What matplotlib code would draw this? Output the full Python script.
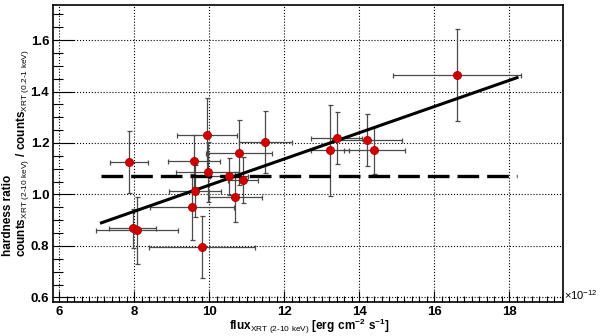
import numpy as np
import matplotlib
matplotlib.use('Agg')
import matplotlib.pyplot as plt
from matplotlib.ticker import MultipleLocator

plt.rcParams['font.family'] = 'Liberation Sans'
plt.rcParams['mathtext.fontset'] = 'custom'
plt.rcParams['mathtext.rm'] = 'Liberation Sans'
plt.rcParams['mathtext.bf'] = 'Liberation Sans:bold'

# flux in units of 1e-12 erg cm^-2 s^-1
flux = [7.87, 7.96, 8.08, 9.54, 9.59, 9.63, 9.81, 9.94, 9.96, 10.53,
        10.70, 10.80, 10.91, 11.50, 13.22, 13.41, 14.21, 14.41, 16.61]
flux_err = [0.50, 0.62, 1.09, 1.12, 0.69, 0.70, 1.41, 0.80, 0.83, 0.50,
            0.71, 0.88, 0.40, 0.71, 0.50, 0.68, 0.92, 0.80, 1.70]
ratio = [1.127, 0.868, 0.861, 0.950, 1.130, 1.014, 0.797, 1.230, 1.088, 1.071,
         0.991, 1.163, 1.055, 1.204, 1.171, 1.220, 1.212, 1.171, 1.464]
ratio_err = [0.12, 0.075, 0.13, 0.128, 0.10, 0.10, 0.12, 0.145, 0.117, 0.072,
             0.097, 0.125, 0.09, 0.122, 0.178, 0.10, 0.10, 0.09, 0.178]

# linear fit and constant fit
fit_range = [7.13, 18.21]
fit_slope = 0.0509
fit_intercept = 0.527
const_value = 1.072

fig = plt.figure(figsize=(6, 3.36), dpi=100)
ax = fig.add_axes([0.089, 0.101, 0.849, 0.884])

ax.errorbar(flux, ratio, xerr=flux_err, yerr=ratio_err, fmt='none',
            ecolor='#4a4a4a', elinewidth=0.9, capsize=1.8, capthick=0.9, zorder=2)

xx = np.array(fit_range)
ax.plot(xx, fit_intercept + fit_slope * xx, color='black', lw=2.2, zorder=3)
ax.plot(xx, [const_value, const_value], color='black', lw=2.4,
        dashes=(6.5, 2.4), zorder=3)

ax.plot(flux, ratio, 'o', ms=5.8, mfc='#d00000', mec='#b00000', mew=0.6, zorder=4)

ax.set_xlim(5.85, 19.43)
ax.set_ylim(0.582, 1.736)
ax.xaxis.set_major_locator(MultipleLocator(2))
ax.xaxis.set_minor_locator(MultipleLocator(0.2))
ax.yaxis.set_minor_locator(MultipleLocator(0.05))
ax.set_yticks(np.arange(0.6, 1.61, 0.2))
ax.set_yticklabels(['%.1f' % v for v in np.arange(0.6, 1.61, 0.2)])

ax.tick_params(which='both', direction='in', top=False, right=False, colors='black')
ax.tick_params(axis='y', which='major', length=15, width=0.8)
ax.tick_params(axis='y', which='minor', length=7, width=0.8)
ax.tick_params(axis='x', which='major', length=8, width=0.8)
ax.tick_params(axis='x', which='minor', length=4, width=0.8)
ax.tick_params(axis='both', labelsize=9.5, pad=3)
for lab in ax.get_xticklabels() + ax.get_yticklabels():
    lab.set_fontweight('bold')

ax.grid(True, which='major', linestyle=':', color='black', linewidth=0.8)
for s in ax.spines.values():
    s.set_linewidth(1.2)

ax.text(1.002, 0.025, r'$\times$10$^{\mathregular{-12}}$', transform=ax.transAxes,
        fontsize=8, ha='left', va='center')

fig.text(0.515, 1 - 330 / 336,
         r'$\mathbf{flux}_{\mathrm{XRT\ (2\text{-}10\ keV)}}$ $\mathbf{[erg\ cm^{-2}\ s^{-1}]}$',
         fontsize=8.5, ha='center', va='baseline')

fig.text(8 / 600, 1 - 256 / 336, 'hardness ratio', rotation=90, fontsize=8.5,
         fontweight='bold', ha='center', va='bottom')
fig.text(23 / 600, 1 - 257 / 336,
         r'$\mathbf{counts}_{\mathrm{XRT\ (2\text{-}10\ keV)}}$ $\mathbf{/\ counts}_{\mathrm{XRT\ (0.2\text{-}1\ keV)}}$',
         rotation=90, fontsize=8.5, ha='center', va='bottom')

fig.savefig('out.png', dpi=100)
